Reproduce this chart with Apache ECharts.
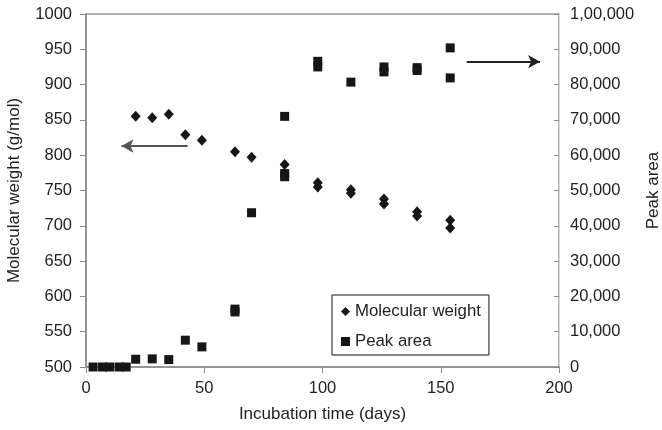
<!DOCTYPE html>
<html>
<head>
<meta charset="utf-8">
<script src="https://cdn.jsdelivr.net/npm/echarts@6/dist/echarts.min.js"></script>
<style>html,body{margin:0;padding:0;background:#fff}#c{width:662px;height:430px}</style>
</head>
<body>
<div id="c"></div>
<script>
// Molecular weight (left axis)
var mwDays = [21, 28, 35, 42, 49, 63, 70, 84, 98, 98, 112, 112, 126, 126, 140, 140, 154, 154];
var mwValues = [855, 853, 858, 829, 821, 805, 797, 787, 761, 755, 751, 746, 738, 731, 720, 714, 708, 697];
// Peak area (right axis)
var paDays = [3, 7, 10, 14, 17, 21, 28, 35, 42, 49, 63, 63, 70, 84, 84, 84, 98, 98, 112, 126, 126, 140, 140, 154, 154];
var paValues = [0, 0, 0, 0, 0, 2200, 2300, 2100, 7600, 5700, 15600, 16400, 43700, 54800, 53900, 71000, 86600, 85000, 80700, 85000, 83600, 84800, 84000, 90400, 81900];
// Annotation arrows (data units)
var leftArrow = [[43, 813], [15, 813]];
var rightArrow = [[161, 86500], [192, 86500]];

function indian(v) {
  var s = String(Math.round(v));
  if (s.length <= 3) return s;
  var last3 = s.slice(-3), rest = s.slice(0, -3);
  rest = rest.replace(/\B(?=(\d{2})+(?!\d))/g, ',');
  return rest + ',' + last3;
}

var mwData = mwDays.map(function (d, i) { return [d, mwValues[i]]; });
var paData = paDays.map(function (d, i) { return [d, paValues[i]]; });
var font = 'Liberation Sans, Arial, sans-serif';
var txt = '#222';
var ax = '#8a8a8a';
var mk = '#161616';

var chart = echarts.init(document.getElementById('c'));
chart.setOption({
  animation: false,
  backgroundColor: '#fff',
  textStyle: { fontFamily: font },
  grid: { left: 86, right: 103, top: 14, bottom: 63, containLabel: false, outerBoundsMode: 'none', show: true, borderColor: '#999', borderWidth: 1.5, backgroundColor: 'transparent' },
  legend: {
    orient: 'vertical', left: 332, top: 295,
    borderColor: '#111', borderWidth: 1,
    padding: [7, 8, 4, 9], itemGap: 11, itemWidth: 9, itemHeight: 9, itemTextGap: 6,
    textStyle: { fontSize: 16.8, color: txt, fontFamily: font, lineHeight: 19 },
    data: [{ name: 'Molecular weight', icon: 'diamond' }, { name: 'Peak area', icon: 'rect' }]
  },
  xAxis: {
    type: 'value', min: 0, max: 200, interval: 50,
    name: 'Incubation time (days)', nameLocation: 'middle', nameGap: 39,
    nameTextStyle: { fontSize: 17, color: txt },
    axisLine: { lineStyle: { color: ax, width: 1.5 } },
    axisTick: { length: 6, lineStyle: { color: ax } },
    axisLabel: { fontSize: 16.5, color: txt, margin: 13 },
    splitLine: { show: false }
  },
  yAxis: [{
    type: 'value', min: 500, max: 1000, interval: 50,
    name: 'Molecular weight (g/mol)', nameLocation: 'middle', nameGap: 63, nameRotate: 90,
    nameTextStyle: { fontSize: 17, color: txt },
    axisLine: { show: true, lineStyle: { color: ax, width: 1.5 } },
    axisTick: { show: true, length: 6, lineStyle: { color: ax } },
    axisLabel: { fontSize: 16.5, color: txt, margin: 14, formatter: function (v) { return String(v); } },
    splitLine: { show: false }
  }, {
    type: 'value', min: 0, max: 100000, interval: 10000, position: 'right',
    name: 'Peak area', nameLocation: 'middle', nameGap: 82, nameRotate: 90,
    nameTextStyle: { fontSize: 17, color: txt },
    axisLine: { show: true, lineStyle: { color: '#d8d8d8', width: 1 } },
    axisTick: { show: true, inside: true, length: 5, lineStyle: { color: ax } },
    axisLabel: { fontSize: 16.5, color: txt, margin: 11, formatter: indian },
    splitLine: { show: false }
  }],
  series: [{
    name: 'Molecular weight', type: 'scatter', yAxisIndex: 0,
    symbol: 'diamond', symbolSize: [10, 11], data: mwData,
    itemStyle: { color: mk, opacity: 1 },
    markLine: {
      silent: true, symbol: ['none', 'arrow'], symbolSize: [10, 12],
      lineStyle: { color: '#555', width: 2, type: 'solid' }, label: { show: false },
      data: [[{ coord: leftArrow[0] }, { coord: leftArrow[1] }]]
    }
  }, {
    name: 'Peak area', type: 'scatter', yAxisIndex: 1,
    symbol: 'rect', symbolSize: [9, 9], data: paData,
    itemStyle: { color: mk, opacity: 1 },
    markLine: {
      silent: true, symbol: ['none', 'arrow'], symbolSize: [10, 12],
      lineStyle: { color: '#222', width: 2, type: 'solid' }, label: { show: false },
      data: [[{ coord: rightArrow[0] }, { coord: rightArrow[1] }]]
    }
  }]
});
</script>
</body>
</html>
